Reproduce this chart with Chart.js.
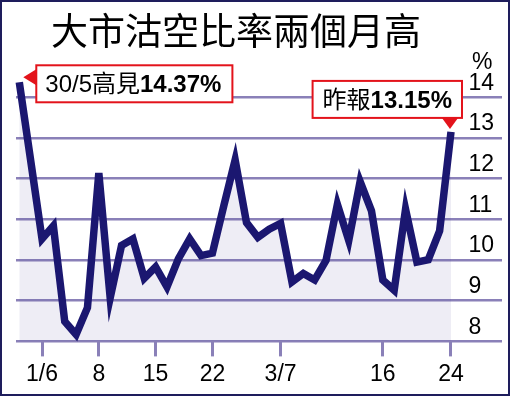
<!DOCTYPE html>
<html><head><meta charset="utf-8">
<script src="https://cdn.jsdelivr.net/npm/chart.js@4"></script>
<style>html,body{margin:0;padding:0;background:#fff}#wrap{width:510px;height:396px}</style>
</head><body><div id="wrap"><canvas id="c" width="510" height="396"></canvas></div>
<script>
const titleText = '大市沽空比率兩個月高';
const unitText = '%';
const dates = ['30/5','31/5','1/6','4/6','5/6','6/6','7/6','8/6','11/6','12/6','13/6','14/6','15/6','18/6','19/6','20/6','21/6','22/6','25/6','26/6','27/6','28/6','29/6','3/7','4/7','5/7','6/7','9/7','10/7','11/7','12/7','13/7','16/7','17/7','18/7','19/7','20/7','23/7','24/7'];
const values = [14.37,12.45,10.52,10.84,8.49,8.17,8.83,12.14,9.07,10.36,10.52,9.55,9.83,9.34,10.03,10.52,10.11,10.17,11.33,12.46,10.92,10.56,10.76,10.90,9.46,9.67,9.51,9.99,11.37,10.48,11.93,11.21,9.51,9.26,11.25,9.95,10.01,10.72,13.15];
const tickDates = ['1/6','8/6','15/6','22/6','3/7','16/7','24/7'];
const tickLabels = ['1/6','8','15','22','3/7','16','24'];
const yTicks = [8,9,10,11,12,13,14];
const noteHigh = {date:'30/5', prefix:'30/5高見', value:'14.37%'};
const noteLast = {date:'24/7', prefix:'昨報', value:'13.15%'};

const NAVY = '#1b1770';
const LAV = '#8a80b8';
const RED = '#e3131b';
const FONT = '"Liberation Sans", "Noto Sans CJK TC", sans-serif';

function noteText(ctx, note, x, baseY){
  ctx.font = '24px ' + FONT;
  ctx.fillStyle = '#000';
  ctx.textAlign = 'left'; ctx.textBaseline = 'alphabetic';
  ctx.fillText(note.prefix, x, baseY);
  const w1 = ctx.measureText(note.prefix).width;
  ctx.font = 'bold 24px ' + FONT;
  ctx.fillText(note.value, x + w1, baseY);
}
function noteWidth(ctx, note){
  ctx.font = '24px ' + FONT;
  const w1 = ctx.measureText(note.prefix).width;
  ctx.font = 'bold 24px ' + FONT;
  return w1 + ctx.measureText(note.value).width;
}
function box(ctx, l, t, w, h){
  ctx.fillStyle = '#fff';
  ctx.fillRect(l, t, w, h);
  ctx.strokeStyle = RED; ctx.lineWidth = 2;
  ctx.strokeRect(l, t, w, h);
}

const deco = {
  id: 'deco',
  beforeDraw(chart){
    const c = chart.ctx; c.save(); c.fillStyle = '#fff'; c.fillRect(0,0,chart.width,chart.height); c.restore();
  },
  afterDraw(chart){
    const ctx = chart.ctx, x = chart.scales.x, y = chart.scales.y;
    ctx.save();
    // title
    ctx.fillStyle = '#000';
    ctx.font = '37px "Noto Sans CJK TC", sans-serif';
    ctx.textAlign = 'left'; ctx.textBaseline = 'middle';
    ctx.fillText(titleText, 51, 31);
    // unit
    ctx.font = '23px ' + FONT; ctx.textBaseline = 'alphabetic';
    ctx.fillText(unitText, 472, y.getPixelForValue(14) - 28);

    // high note (left pointer)
    const i0 = dates.indexOf(noteHigh.date);
    const ax = x.getPixelForValue(i0) + 4, ay = y.getPixelForValue(values[i0]) - 5;
    const w0 = noteWidth(ctx, noteHigh) + 20, h = 37;
    const l0 = ax + 13, t0 = ay - 12;
    box(ctx, l0, t0, w0, h);
    ctx.fillStyle = RED;
    ctx.beginPath(); ctx.moveTo(ax, ay); ctx.lineTo(l0, ay - 8); ctx.lineTo(l0, ay + 8); ctx.closePath(); ctx.fill();
    noteText(ctx, noteHigh, l0 + 9, t0 + 27);

    // last note (down pointer)
    const i1 = dates.indexOf(noteLast.date);
    const bx = x.getPixelForValue(i1) - 1, by = y.getPixelForValue(values[i1]) - 3;
    const w1 = noteWidth(ctx, noteLast) + 20;
    const b1 = by - 11, t1 = b1 - h, l1 = bx + 12 - w1;
    box(ctx, l1, t1, w1, h);
    ctx.fillStyle = RED;
    ctx.beginPath(); ctx.moveTo(bx, by); ctx.lineTo(bx - 8, b1); ctx.lineTo(bx + 8, b1); ctx.closePath(); ctx.fill();
    noteText(ctx, noteLast, l1 + 10, t1 + 27);

    // frame
    ctx.strokeStyle = '#1e1d5c'; ctx.lineWidth = 2;
    ctx.strokeRect(1, 1, chart.width - 2, chart.height - 2);
    ctx.restore();
  }
};

new Chart(document.getElementById('c'), {
  type: 'line',
  data: {
    datasets: [{
      data: values.map((v, i) => ({x: i, y: v})),
      borderColor: NAVY,
      borderWidth: 7.5,
      borderJoinStyle: 'miter',
      fill: 'start',
      backgroundColor: 'rgba(90,80,160,0.1)',
      pointRadius: 0,
      tension: 0,
      clip: false
    }]
  },
  options: {
    responsive: false,
    animation: false,
    devicePixelRatio: 1,
    layout: {padding: {left: 16, right: 8, top: 77, bottom: 4}},
    plugins: {legend: {display: false}, title: {display: false}, tooltip: {enabled: false}},
    scales: {
      x: {
        type: 'linear', min: -0.29, max: 42.49,
        afterBuildTicks: a => { a.ticks = tickDates.map(d => ({value: dates.indexOf(d)})); },
        ticks: {autoSkip: false, maxRotation: 0, padding: 4, color: '#000',
          font: {family: FONT, size: 23},
          callback: (v, i) => tickLabels[i]},
        grid: {drawOnChartArea: false, drawTicks: true, tickLength: 15, color: LAV, lineWidth: 3},
        border: {display: false}
      },
      y: {
        position: 'right', min: 8, max: 14.5,
        afterBuildTicks: a => { a.ticks = yTicks.map(v => ({value: v})); },
        ticks: {mirror: true, crossAlign: 'far', padding: -8, labelOffset: -14, color: '#000',
          font: {family: FONT, size: 23}},
        grid: {color: LAV, lineWidth: 2.5, drawTicks: false},
        border: {display: false}
      }
    }
  },
  plugins: [deco]
});
</script>
</body></html>
